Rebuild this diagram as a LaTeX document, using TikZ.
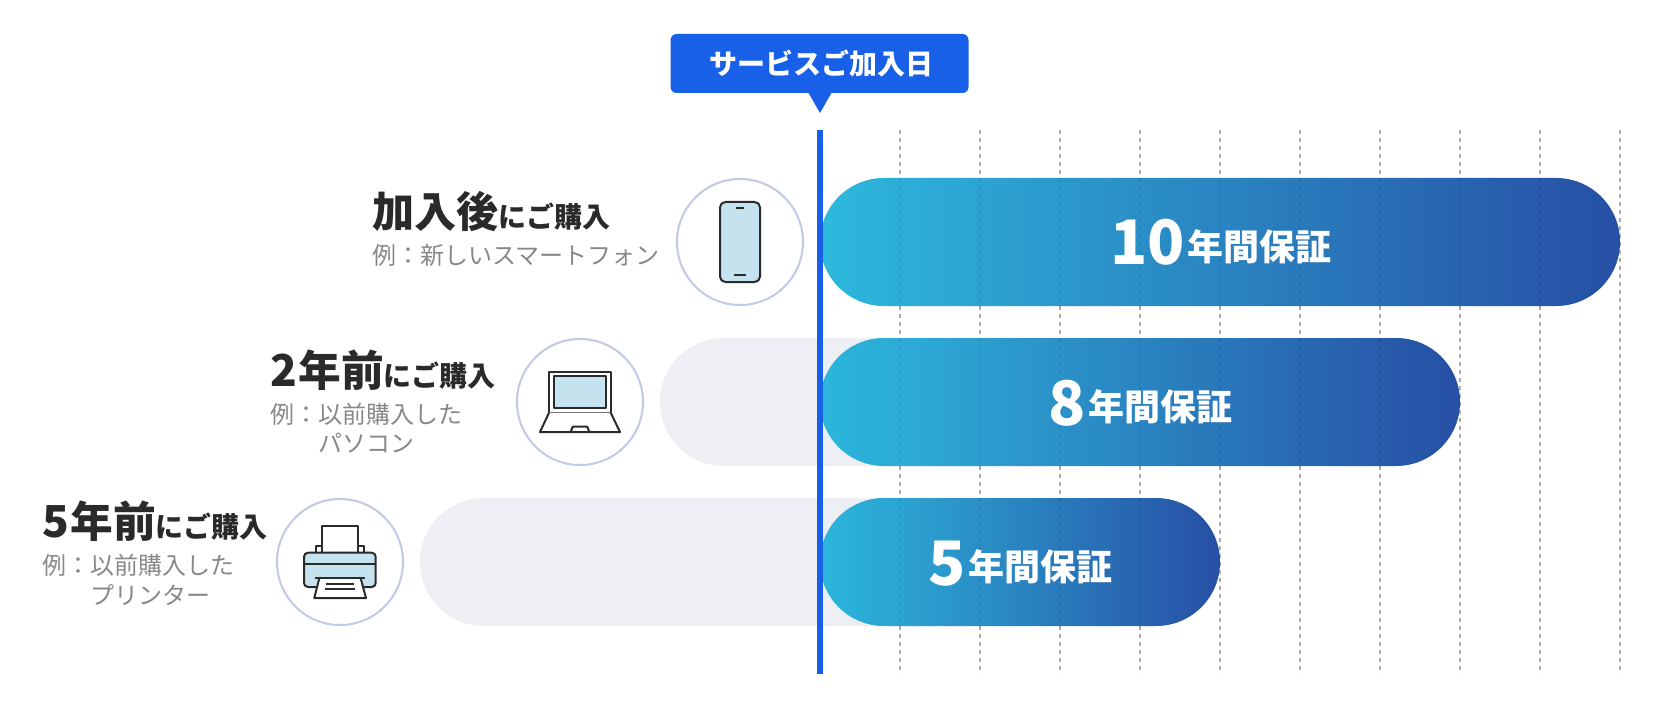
\documentclass[tikz,border=0pt]{standalone}
\usepackage{fontspec}
\setmainfont{Noto Sans CJK JP}
\usetikzlibrary{positioning}
\definecolor{BubbleBlue}{RGB}{24,96,232}
\definecolor{RingBlue}{RGB}{192,201,230}
\definecolor{GhostGray}{RGB}{238,239,245}
\definecolor{GridGray}{RGB}{170,170,170}
\definecolor{InkGray}{RGB}{42,42,42}
\definecolor{NoteGray}{RGB}{136,136,136}
\definecolor{ScreenBlue}{RGB}{197,227,238}
\definecolor{BarLeft}{RGB}{22,177,217}
\definecolor{BarRight}{RGB}{16,60,155}
\newcommand{\sized}[1]{\fontsize{#1}{#1}\selectfont}

\begin{document}
\begin{tikzpicture}[x=0.75pt, y=-0.75pt]
        \tikzstyle{ring} = [circle, draw=RingBlue, line width=1.5pt, fill=white, minimum size=94.5pt, inner sep=0pt]
        \tikzstyle{icon} = [draw=InkGray, line width=1.5pt, line join=round]
        \tikzstyle{head} = [anchor=base west, inner sep=0pt, text=InkGray, font=\bfseries]
        \tikzstyle{note} = [anchor=base west, inner sep=0pt, text=NoteGray, font=\sized{18pt}]
        \tikzstyle{years} = [anchor=base west, inner sep=0pt, text=white, font=\bfseries\sized{46pt}]
        \tikzstyle{unit} = [anchor=base west, inner sep=0pt, text=white, font=\bfseries\sized{27pt}]
        \tikzstyle{bar} = [rounded corners=47.9pt, left color=BarLeft, right color=BarRight, draw=none, fill opacity=0.9]

        \useasboundingbox (0,0) rectangle (1680,720);

        % grey stretch before the start date
        \foreach \xl/\yt in {660/338, 420/498}
          \fill[GhostGray] (884,\yt) [rounded corners=47.9pt] -- (\xl,\yt) -- (\xl,\yt+128) [sharp corners] -- (884,\yt+128) -- cycle;

        % one line per year
        \foreach \i in {0,...,9}
          \draw[GridGray, line width=1.5pt, dash pattern=on 3pt off 3pt] (900+\i*80,130) -- (900+\i*80,674);

        % bars
        \foreach \xr/\yt in {1620/178, 1460/338, 1220/498}
          \shade[bar] (820,\yt) rectangle (\xr,\yt+128);

        \fill[BubbleBlue] (817,130) rectangle (823,674);

        % start date label
        \node[fill=BubbleBlue, rounded corners=4.5pt, minimum width=223.5pt, minimum height=44.25pt, inner sep=0pt,
          text=white, font=\bfseries\sized{21pt}] (bubble) at (819.5,63.5) {\kern3pt サービスご加入日};
        \fill[BubbleBlue] (808,92) -- (820,113) -- (832,92) -- cycle;

        % left column
        \node[ring] (phonering) at (740,242) {};
        \node[ring] (laptopring) at (580,402) {};
        \node[ring] (printerring) at (340,562) {};

        \node[head] (headone) at (372,228) {{\sized{31.6pt}加入後}{\sized{21pt}にご購入}};
        \node[note] (noteone) at (372,264) {例：新しいスマートフォン};

        \node[head] (headtwo) at (270,386) {{\sized{33pt}2\kern1pt}{\sized{32pt}年前}{\sized{21pt}にご購入}};
        \node[note] (notetwo) at (270,423) {例：以前購入した};
        \node[note] (notetwob) at (318,452) {パソコン};

        \node[head] (headthree) at (42,537) {{\sized{33pt}5\kern1pt}{\sized{32pt}年前}{\sized{21pt}にご購入}};
        \node[note] (notethree) at (42,574) {例：以前購入した};
        \node[note] (notethreeb) at (90,604) {プリンター};

        % bar labels
        \node[years] (yearsten) at (1110,265) {10};
        \node[unit] (unitten) at (1187,261) {年間保証};
        \node[years] (yearseight) at (1048,425) {8};
        \node[unit] (uniteight) at (1088,420) {年間保証};
        \node[years] (yearsfive) at (928,585) {5};
        \node[unit] (unitfive) at (968,580) {年間保証};

        % phone
        \draw[icon, fill=ScreenBlue, rounded corners=4pt] (720,202) rectangle (760,282);
        \draw[icon] (736,207.7) -- (744,207.7) (734,275) -- (746,275);

        % laptop
        \draw[icon, fill=white] (549,371.5) rectangle (610.7,412.7);
        \draw[icon, fill=ScreenBlue] (553.7,375.7) rectangle (606,408.3);
        \draw[icon, fill=white] (549,412.7) -- (540,432) -- (620,432) -- (610.7,412.7);
        \draw[icon] (570.7,432) -- (572.7,426.7) -- (587.3,426.7) -- (589.3,432);

        % printer
        \draw[icon, fill=white] (316,553) rectangle (364,546);
        \draw[icon, fill=white] (322,553) rectangle (358.3,525.7);
        \draw[icon, fill=ScreenBlue, rounded corners=3pt] (304,552.7) rectangle (375.7,587);
        \draw[icon] (304,564) -- (375.7,564);
        \draw[icon, fill=white] (319.3,578.3) -- (314.3,598) -- (366,598) -- (360.7,578.3);
        \draw[icon] (315,578.3) -- (365,578.3);
        \draw[icon, line width=1.1pt] (326,584) -- (354,584) (325,589) -- (355,589);
      \end{tikzpicture}
\end{document}
